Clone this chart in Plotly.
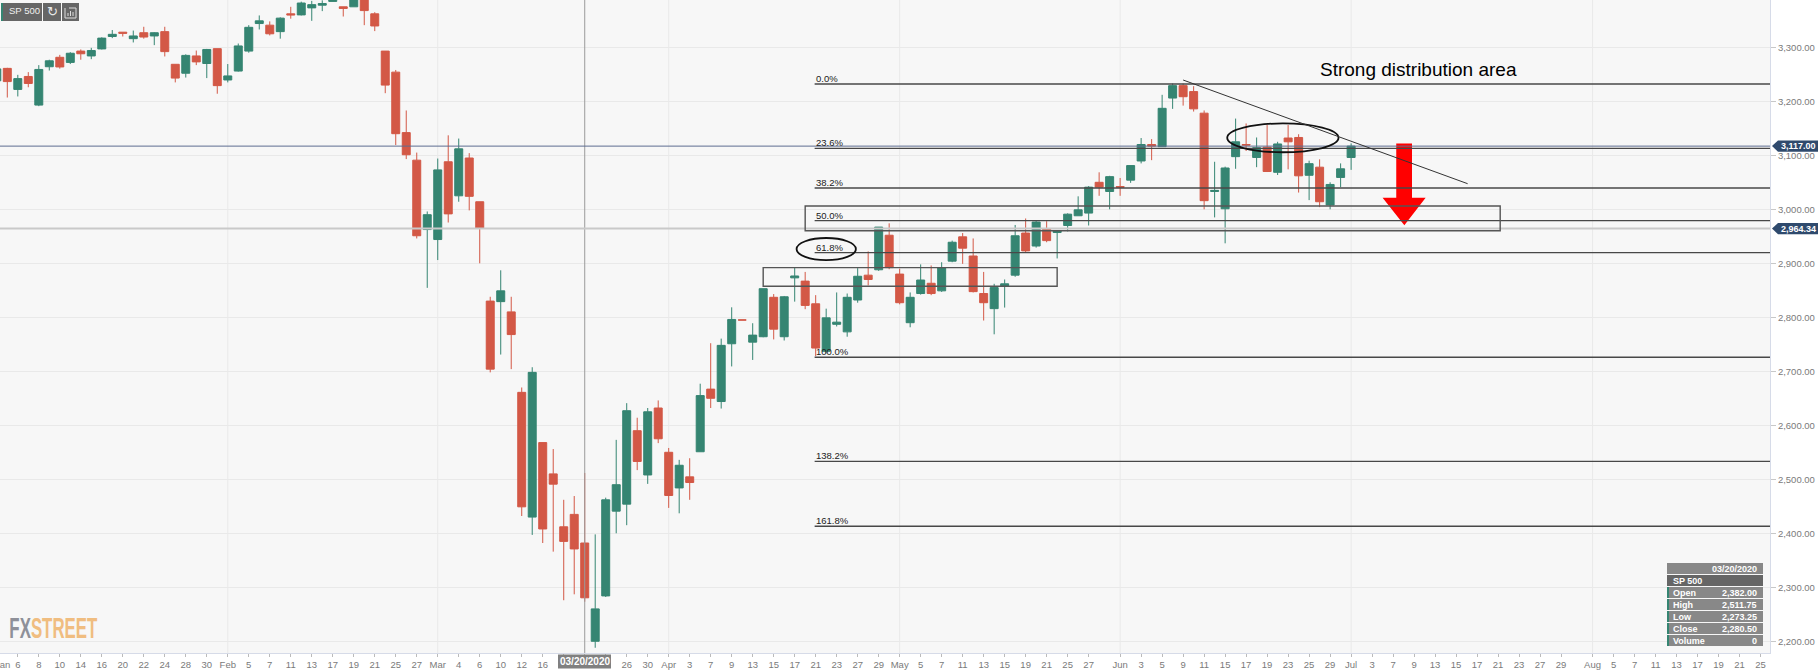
import plotly.graph_objects as go

# ---- data -----------------------------------------------------------------
day_index = list(range(-2, 128))
open_ = [3238,3261,3222,3246,3193,3264,3281.5,3272,3293,3284,3297,3320,3328,3316,3327,3321,3329,3268.5,3252,3284,
 3270,3297.5,3239.5,3256,3293,3344,3341,3329,3362,3360,3373,3378,3385,3375,3375,3395,3362,3293,3254,3142,
 3091,2962.5,2944,3088,3025,3095,3014,2830,2829,2810,2661,2430,2568,2510,2412,2435,2382,2200,2284,2441,
 2454,2590,2508,2632,2550,2484,2504.5,2551,2667,2644,2751,2795,2754,2764,2837,2764,2873,2867,2825,2737,
 2787,2773,2832,2878,2888,2952,2880,2790,2844,2863,2849,2904,2949,2913.5,2844,2816,2858,2878,2956,2932,
 2964,2957,2970,2988,2993,3050,3033,3042,3054,3089.5,3120,3116,3206,3229,3218,3178,3033,3001,3097.5,3120,
 3096,3115,3068.5,3132,3133,3063,3078,3008,3059,3096]
high = [3262,3262,3249,3254,3267,3277,3286,3291,3296,3299,3318.5,3332,3328,3331,3338,3328,3338,3268.5,3287,3294,
 3297,3297.5,3269,3307,3341,3359,3348,3355.5,3375,3384.5,3386,3387,3395,3375,3400,3400,3365,3293,3258,3183,
 3105,2996,3094,3137,3131,3104,3014,2838,2887,2838,2670,2707.5,2568,2556,2462,2469,2511.75,2398,2466,2573,
 2641,2614,2632,2646,2558,2536,2539,2677,2752,2760.5,2818.5,2795,2789,2853,2843,2839.5,2892.5,2884,2841,2816,
 2846,2844,2891,2922,2967,2974,2890,2846,2898,2896,2902,2942,2956,2946,2884,2862,2870,2971,2983,2980,
 2978,2960.4,2992.5,3024,3043,3068.5,3062,3058,3081,3132,3130,3212,3233,3233,3228,3183,3088,3079,3168,3159,
 3133,3156,3125,3156,3139,3090,3092.5,3050,3085,3122]
low = [3231,3207,3209,3226,3191,3257,3260.5,3269,3277,3278,3296,3317,3320,3309,3316,3304,3283,3235,3244,3267,
 3243,3214,3235,3255,3290,3333,3322,3316,3353,3359,3349,3367,3385,3357,3375,3341,3330,3215,3119,3093,
 2946,2854.5,2906,2975.5,3014,2998,2900,2698,2731,2704,2432,2397,2382,2366,2276,2287,2273.25,2188,2282,2400,
 2415,2517,2491.5,2567,2447,2437,2462,2551,2632,2631,2709,2795,2721,2763,2759,2757,2829,2815,2728,2733,
 2783,2764,2827,2859,2886,2889,2824,2781.5,2842,2841,2847,2902,2899,2846,2794,2768.5,2818,2875,2920,2929,
 2939,2909,2959,2988,2970,3025,3000,3025,3049,3085,3091,3116,3186,3192,3181,3000,2985,2937,3075,3108,
 3078,3069,3063.5,3074,3031,3017,3004,3000,3041,3073]
close = [3260,3236.5,3242,3233,3259,3275,3263.6,3289,3288,3294,3317,3324,3326,3321,3319,3327,3292,3243,3285,3273,
 3296,3229,3247,3302.5,3337,3349,3325,3354,3360,3382,3379,3381,3392,3372,3395,3368,3339.5,3230,3140,3101,
 2951,2990,3073,2991.5,3112,3024,2965,2704,2849,2768,2449,2698,2408,2491,2385,2371,2280.5,2260,2462,2490,
 2627,2533,2625,2575,2470,2526,2494,2655,2650,2748,2796,2795,2767,2853,2778,2838,2876.5,2822,2743,2799,
 2791,2837,2876,2870,2967,2892,2827,2837,2869,2844,2892,2939,2928,2847.5,2827,2855,2862,2951,2923,2976.5,
 2942,2960,2991,2999,3041,3041,3060.5,3041,3081,3120,3117,3187,3229,3208.5,3186,3016,3035,3076.5,3125,3119,
 3114,3070,3121,3125,3062,3084.5,3014,3046,3075,3117]

# the labels at 52, 54 and 56 sit behind the date tag on the axis, so they are left blank
tick_index = [0,2,4,6,8,10,12,14,16,18,20,22,24,26,28,30,32,34,36,38,40,42,44,46,48,50,52,54,56,58,60,62,64,66,68,
 70,72,74,76,78,80,82,84,86,88,90,92,94,96,98,100,102,105,107,109,111,113,115,117,119,121,123,125,127,129,131,133,
 135,137,139,141,143,145,147,150,152,154,156,158,160,162,164,166]
tick_labels = ["6","8","10","14","16","20","22","24","28","30","Feb","5","7","11","13","17","19","21","25","27",
 "Mar","4","6","10","12","16","","","","26","30","Apr","3","7","9","13","15","17","21","23","27","29",
 "May","5","7","11","13","15","19","21","25","27","Jun","3","5","9","11","15","17","19","23","25","29",
 "Jul","3","7","9","13","15","17","21","23","27","29","Aug","5","7","11","13","17","19","21","25"]
month_index = [20, 40, 62, 84, 105, 127, 150]
price_ticks = [2200,2300,2400,2500,2600,2700,2800,2900,3000,3100,3200,3300]

fib_labels = ["0.0%","23.6%","38.2%","50.0%","61.8%","100.0%","138.2%","161.8%"]
fib_levels = [3232,3113,3039.4,2979,2919.7,2726,2533,2413]

last_price = 3117.00
cross_price = 2964.34
cross_day = 54
cross_date = "03/20/2020"

info_title = "SP 500"
info_names = ["Open","High","Low","Close","Volume"]
info_values = ["2,382.00","2,511.75","2,273.25","2,280.50","0"]

# ---- layout helpers ---------------------------------------------------------
W, H = 1818, 671
L, R, T, B = 0, 48, 0, 18
PW, PH = W - L - R, H - T - B
FONT = "Liberation Sans"
GREEN, RED = "#358572", "#d35846"
def px(v): return v / PW
def py(v): return 1 - v / PH

fig = go.Figure(go.Candlestick(
    x=day_index, open=open_, high=high, low=low, close=close,
    increasing=dict(line=dict(color=GREEN, width=1), fillcolor=GREEN),
    decreasing=dict(line=dict(color=RED, width=1), fillcolor=RED),
    whiskerwidth=0, showlegend=False, hoverinfo="skip"))

shapes, notes = [], []

def box(x0, y0, x1, y1, fill, layer="above"):
    shapes.append(dict(type="rect", xref="paper", yref="paper", x0=px(x0), x1=px(x1),
                       y0=py(y0), y1=py(y1), fillcolor=fill, line=dict(width=0), layer=layer))

def label(x, y, text, color="#ffffff", size=9, anchor="left", bold=True, family=FONT):
    notes.append(dict(xref="paper", yref="paper", x=px(x), y=py(y), text=f"<b>{text}</b>" if bold else text,
                      showarrow=False, xanchor=anchor, yanchor="middle", borderpad=0,
                      font=dict(family=family, size=size, color=color)))

# month grid lines
for m in month_index:
    shapes.append(dict(type="line", xref="x", yref="paper", x0=m, x1=m, y0=0, y1=1,
                       line=dict(color="#e9e9e9", width=1), layer="below"))

# arrow (below the fib lines)
shapes.append(dict(type="path", xref="x", yref="y", fillcolor="#ff0000", line=dict(width=0),
    path="M131.3,3122 L132.8,3122 L132.8,3021.5 L134.1,3021.5 L132.07,2970.4 L130,3021.5 L131.3,3021.5 Z"))

# crosshair and price lines
shapes.append(dict(type="line", xref="x", yref="paper", x0=cross_day, x1=cross_day, y0=0, y1=1,
                   line=dict(color="#9c9c9c", width=1)))
shapes.append(dict(type="line", xref="paper", yref="y", x0=0, x1=1, y0=cross_price, y1=cross_price,
                   line=dict(color="#c9c9c9", width=2)))
shapes.append(dict(type="line", xref="paper", yref="y", x0=0, x1=1, y0=last_price, y1=last_price,
                   line=dict(color="#5d6d90", width=1)))

# fibonacci levels
FIB_X = 75.9
for name, lev in zip(fib_labels, fib_levels):
    shapes.append(dict(type="line", xref="x", yref="y", x0=FIB_X, x1=166.9, y0=lev, y1=lev,
                       line=dict(color="#484848", width=1.3)))
    notes.append(dict(xref="x", yref="y", x=FIB_X, y=lev, text=name, showarrow=False,
                      xanchor="left", yanchor="bottom", borderpad=0, yshift=-1,
                      font=dict(family=FONT, size=9.5, color="#222222")))

# hand-drawn zones
for x0, x1, y0, y1 in [(75, 141.2, 2960.4, 3006), (71, 99, 2857.4, 2892)]:
    shapes.append(dict(type="rect", xref="x", yref="y", x0=x0, x1=x1, y0=y0, y1=y1,
                       line=dict(color="#555555", width=1.4)))
for x0, x1, y0, y1 in [(74.18, 79.83, 2906, 2946.8), (115.2, 125.8, 3105.6, 3159)]:
    shapes.append(dict(type="circle", xref="x", yref="y", x0=x0, x1=x1, y0=y0, y1=y1,
                       line=dict(color="#111111", width=1.8)))
shapes.append(dict(type="line", xref="x", yref="y", x0=111, x1=138.1, y0=3239.4, y1=3047.4,
                   line=dict(color="#333333", width=1)))

notes.append(dict(xref="paper", yref="paper", x=px(1319), y=py(70), text="Strong distribution area",
                  showarrow=False, xanchor="left", yanchor="middle", borderpad=0,
                  font=dict(family=FONT, size=19, color="#000000")))

# price tags on the axis
for value, text in [(last_price, "3,117.00"), (cross_price, "2,964.34")]:
    dy = 10.5
    shapes.append(dict(type="path", xref="paper", yref="y", fillcolor="#2f4a6d", line=dict(width=0),
        path=f"M{1772/PW},{value} L{1778/PW},{value+dy} L{1818/PW},{value+dy} L{1818/PW},{value-dy} L{1778/PW},{value-dy} Z"))
    notes.append(dict(xref="paper", yref="y", x=1780/PW, y=value, text=f"<b>{text}</b>", showarrow=False,
                      xanchor="left", yanchor="middle", borderpad=0,
                      font=dict(family=FONT, size=9, color="#ffffff")))

# date tag on the time axis
box(558, 654.5, 611, 668.5, "#808080")
notes.append(dict(xref="x", yref="paper", x=cross_day, y=py(661.5), text=f"<b>{cross_date}</b>", showarrow=False,
                  xanchor="center", yanchor="middle", borderpad=0,
                  font=dict(family=FONT, size=10, color="#ffffff")))

# "Jan" cut off at the left edge
label(10.7, 664, "Jan", color="#7d7d7d", size=9.5, anchor="right", bold=False)

# top-left buttons
box(1, 3, 42, 21, "#666666"); box(1, 3, 3, 21, GREEN)
box(43, 3, 61, 21, "#666666"); box(62, 3, 79, 21, "#666666")
label(8, 11, info_title, color="#f0f0f0", size=9.5, bold=False)
label(52, 12, "↻", color="#e8e8e8", size=13, anchor="center", bold=False, family="DejaVu Sans")
shapes.append(dict(type="path", xref="paper", yref="paper", line=dict(color="#dddddd", width=1),
    path=f"M{px(65)},{py(8)} L{px(65)},{py(18)} L{px(76)},{py(18)} L{px(76)},{py(8)} L{px(69)},{py(8)}"))
for bx, top in [(68, 13), (70.5, 11), (73, 12)]:
    shapes.append(dict(type="line", xref="paper", yref="paper", x0=px(bx), x1=px(bx), y0=py(top), y1=py(16),
                       line=dict(color="#dddddd", width=1)))

# info panel
box(1667, 563, 1763, 574, "#888888")
label(1758, 568.5, cross_date, anchor="right")
box(1667, 575, 1763, 586, "#666666")
label(1672, 580.5, info_title)
row_top = [587, 599, 611, 623, 635]
for top, name, val in zip(row_top, info_names, info_values):
    box(1667, top, 1763, top + 11, "#888888")
    box(1667, top, 1669, top + 11, GREEN)
    label(1672, top + 5.5, name)
    label(1758, top + 5.5, val, anchor="right")

# logo: squeezed to its width after drawing (no condensed face is installed)
notes.append(dict(xref="paper", yref="paper", x=px(53), y=py(627.5), showarrow=False,
    text='<b><span style="color:#8e9099">FX</span><span style="color:#f0bd80">STREET</span></b>',
    xanchor="center", yanchor="middle", borderpad=0,
    font=dict(family=FONT, size=30, color="#f0bd80")))

fig.update_layout(
    width=W, height=H, margin=dict(l=L, r=R, t=T, b=B, pad=0), autosize=False,
    paper_bgcolor="#ffffff", plot_bgcolor="#f7f7f7", boxgap=0.24, boxgroupgap=0, showlegend=False,
    font=dict(family=FONT, size=9.5, color="#7a7a7a"), shapes=shapes, annotations=notes,
    xaxis=dict(range=[-1.695, 166.9], rangeslider=dict(visible=False), tickmode="array",
               tickvals=tick_index, ticktext=tick_labels, ticks="outside", ticklen=3, tickwidth=1,
               tickcolor="#bbbbbb", showgrid=False, zeroline=False, showline=True, linecolor="#d6dbe8",
               linewidth=1, tickangle=0, tickfont=dict(family=FONT, size=9.5, color="#7a7a7a")),
    yaxis=dict(range=[2178.3, 3387.6], side="right", tickmode="array", tickvals=price_ticks,
               tickformat=",.2f", ticks="outside", ticklen=5, tickwidth=1, tickcolor="#c8c8c8",
               showgrid=True, gridcolor="#e9e9e9", gridwidth=1, zeroline=False, showline=True,
               linecolor="#d6dbe8", linewidth=1, tickfont=dict(family=FONT, size=9.5, color="#7a7a7a")),
)

squeeze = ("document.body.style.margin='0';document.body.style.overflow='hidden';"
           "document.querySelectorAll('.annotation-text').forEach(function(t){"
           "if(t.textContent==='FXSTREET'){t.setAttribute('textLength','88');"
           "t.setAttribute('lengthAdjust','spacingAndGlyphs');}});")
fig.write_html("out.html", config={"displayModeBar": False}, post_script=squeeze)
